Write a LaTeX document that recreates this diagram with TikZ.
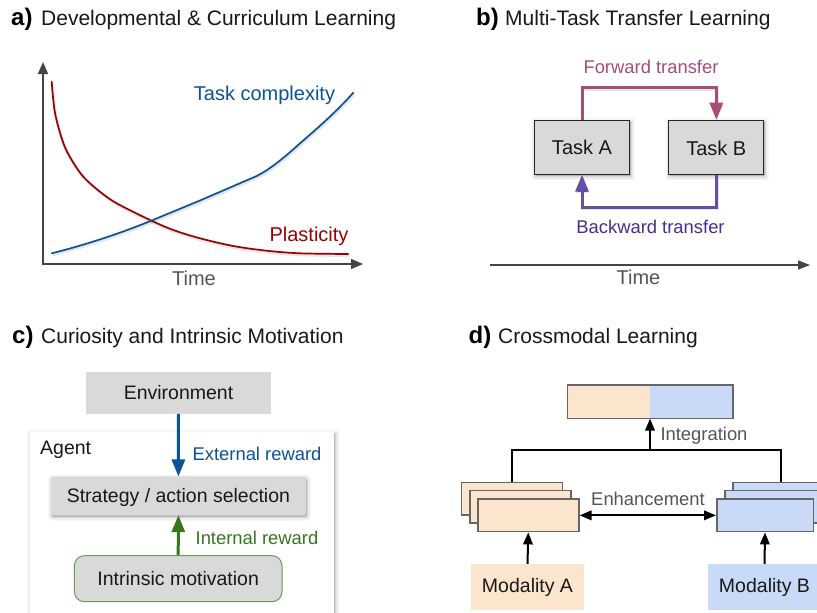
\documentclass[tikz,border=0pt]{standalone}
\usepackage{fontspec}
\setmainfont{Liberation Sans}
\usetikzlibrary{arrows.meta,calc}
\definecolor{gbox}{HTML}{D9D9D9}
\definecolor{peach}{HTML}{FCE5CD}
\definecolor{sky}{HTML}{C9DAF8}
\definecolor{axisc}{HTML}{444444}
\definecolor{greytxt}{HTML}{555555}
\definecolor{blueC}{HTML}{0B5394}
\definecolor{redC}{HTML}{990000}
\definecolor{pinkC}{HTML}{A64D79}
\definecolor{purpC}{HTML}{674EA7}
\definecolor{purpT}{HTML}{44308A}
\definecolor{greenC}{HTML}{38761D}
\definecolor{greenB}{HTML}{6A9A5B}
\definecolor{edgeC}{HTML}{666666}
\tikzset{
  x=1pt,y=-1pt,
  softshadow/.style={
    preaction={draw=black,fill=black,draw opacity=.035,fill opacity=.035,line width=8pt,transform canvas={xshift=1pt,yshift=-2pt}},
    preaction={draw=black,fill=black,draw opacity=.05,fill opacity=.05,line width=5pt,transform canvas={xshift=1pt,yshift=-2pt}},
    preaction={draw=black,fill=black,draw opacity=.07,fill opacity=.07,line width=2pt,transform canvas={xshift=1pt,yshift=-2pt}}},
  lineshadow/.style={
    preaction={draw=black,draw opacity=.10,line width=3pt,transform canvas={xshift=.7pt,yshift=-1.5pt}}},
  ttl/.style={anchor=base west,inner sep=0,text=black!90,font=\fontsize{21}{24}\selectfont},
  ttlb/.style={anchor=base west,inner sep=0,text=black,font=\fontsize{24}{28}\selectfont\bfseries},
  lab/.style={inner sep=0,text=black!90,font=\fontsize{20}{23}\selectfont},
  lab c/.style={inner sep=0,text=black!90,font=\fontsize{19.5}{23}\selectfont},
  slab/.style={inner sep=0,font=\fontsize{18.4}{22}\selectfont},
  sbox/.style={inner sep=0,draw=black!85,line width=1pt,fill=gbox,minimum width=95pt,minimum height=54pt,softshadow},
  layer/.style={inner sep=0,draw=edgeC,line width=1.6pt,anchor=north west,minimum height=32.5pt},
  bigtip/.style={-{Triangle[width=13pt,length=17pt]},line width=3pt},
  smalltip/.style={-{Triangle[width=9.5pt,length=12pt]},line width=2pt,draw=black},
  axisline/.style={draw=axisc,line width=1.5pt},
}
\begin{document}
\begin{tikzpicture}
\path[use as bounding box,clip] (0,0) rectangle (817,613);
\fill[white] (0,0) rectangle (817,613);

% ---------- a
\node[ttlb] (ta) at (11,25) {a)};
\node[ttl] (tta) at (41,25) {Developmental \& Curriculum Learning};
\coordinate (aorigin) at (43,264);
\coordinate (atop) at (43,62);
\coordinate (aright) at (363,264);
\draw[axisline,{Triangle[width=10pt,length=12pt]}-{Triangle[width=10pt,length=12pt]}] (atop) -- (aorigin) -- (aright);
\draw[redC,line width=1.7pt,lineshadow,line cap=round] plot[smooth,tension=.55] coordinates {
 (51.7,81.7) (55,113) (63.3,143) (71.7,160) (83.3,176.7) (100,191.7) (116.7,203.3) (150,220) (173.3,230) (200,238.3) (233.3,246) (266.7,250.7) (300,253.3) (348.3,254)};
\draw[blueC,line width=1.7pt,lineshadow,line cap=round] (51.7,253.3) .. controls (85,245) and (120,233.5) .. (151.7,220.5) -- (200,200.5) -- (256.7,176) .. controls (268,170.5) and (284,158) .. (300,143.3) .. controls (320,126) and (336,112) .. (353.3,92.7);
\node[lab,text=blueC] (lcomplex) at (264.5,95.5) {Task complexity};
\node[lab,text=redC] (lplast) at (309,236.5) {Plasticity};
\node[lab,text=greytxt] (ltimea) at (194,278) {Time};

% ---------- b
\node[ttlb] (tb) at (476,25) {b)};
\node[ttl] (ttb) at (505,25) {Multi-Task Transfer Learning};
\node[sbox] (taska) at (582,147.2) {};
\node[sbox] (taskb) at (716.3,147.2) {};
\node[lab] at (taska) {Task A};
\node[lab] at ($(taskb)+(0,.8)$) {Task B};
\coordinate (fwdA) at (582,87.7);
\coordinate (fwdB) at (716.3,87.7);
\coordinate (bwdB) at (716.3,207);
\coordinate (bwdA) at (582,207);
\draw[draw=pinkC,bigtip,lineshadow] (taska.north) -- (fwdA) -- (fwdB) -- (taskb.north);
\draw[draw=purpC,bigtip,lineshadow] (taskb.south) -- (bwdB) -- (bwdA) -- (taska.south);
\node[slab,text=pinkC] (lfwd) at (651,66.5) {Forward transfer};
\node[slab,text=purpT] (lbwd) at (650.5,227) {Backward transfer};
\coordinate (tleft) at (490,265);
\coordinate (tright) at (810,265);
\draw[axisline,-{Triangle[width=9pt,length=12pt]}] (tleft) -- (tright);
\node[lab,text=greytxt] (ltimeb) at (638.5,277.7) {Time};

% ---------- c
\node[ttlb] (tc) at (12,343) {c)};
\node[ttl] (ttc) at (41,343) {Curiosity and Intrinsic Motivation};
\node[inner sep=0,fill=white,minimum width=304pt,minimum height=182pt,softshadow] (agent) at (182,523) {};
\node[lab c,anchor=west] (lagent) at (40,450) {Agent};
\node[inner sep=0,fill=gbox,minimum width=185pt,minimum height=41.4pt] (env) at (178.5,393) {};
\node[lab c] at (env) {Environment};
\node[inner sep=0,fill=gbox,rounded corners=2pt,minimum width=255pt,minimum height=38.3pt,softshadow] (strat) at (178.4,495.8) {};
\node[lab c] at ($(strat)+(0,2)$) {Strategy / action selection};
\node[inner sep=0,fill=gbox,draw=greenB,line width=1pt,rounded corners=10pt,minimum width=207.7pt,minimum height=46pt] (intr) at (178.2,578.7) {};
\node[lab c] at (intr) {Intrinsic motivation};
\draw[draw=blueC,bigtip] (env.south) -- (strat.north);
\draw[draw=greenC,bigtip] (intr.north) -- (strat.south);
\node[slab,text=blueC] (lext) at (257,453.5) {External reward};
\node[slab,text=greenC] (lint) at (257,537.5) {Internal reward};

% ---------- d
\node[ttlb] (td) at (468.5,343) {d)};
\node[ttl] (ttd) at (498,343) {Crossmodal Learning};
\node[inner sep=0,minimum width=165pt,minimum height=33.3pt] (merged) at (650,401.7) {};
\fill[peach] (merged.south west) rectangle (merged.north);
\fill[sky] (merged.north) rectangle (merged.south east);
\draw[edgeC,line width=1.6pt] (merged.south west) rectangle (merged.north east);
% stack A
\node[layer,fill=peach,minimum width=101pt] (a3) at (460.7,481.7) {};
\node[layer,fill=peach,minimum width=101pt] (a2) at (469,489.5) {};
\node[layer,fill=peach,minimum width=101pt] (a1) at (477,498.3) {};
% stack B
\node[layer,fill=sky,minimum width=102pt] (b3) at (732,481.7) {};
\node[layer,fill=sky,minimum width=102pt] (b2) at (724,489.5) {};
\node[layer,fill=sky,minimum width=96.5pt] (b1) at (716,498.3) {};
\coordinate (joinL) at (511.7,450);
\coordinate (joinR) at (780.7,450);
\coordinate (joinM) at (650,450);
\draw[black,line width=1.8pt] (a3.north west -| joinL) -- (joinL) -- (joinR) -- (b3.north west -| joinR);
\draw[smalltip] (joinM) -- (merged.south);
\draw[smalltip,{Triangle[width=9.5pt,length=12pt]}-{Triangle[width=9.5pt,length=12pt]}] (a1.east) -- (b1.west);
\node[inner sep=0,fill=peach,minimum width=113pt,minimum height=46pt] (moda) at (527.5,587) {};
\node[lab c] at (moda) {Modality A};
\node[inner sep=0,fill=sky,minimum width=113pt,minimum height=46pt] (modb) at (764.5,587) {};
\node[lab c] (lmodb) at (modb) {Modality B};
\draw[smalltip] (moda.north) -- (a1.south);
\draw[smalltip] (modb.north) -- (b1.south);
\node[slab,text=greytxt] (lint2) at (704,435.5) {Integration};
\node[slab,text=greytxt] (lenh) at (648,498.5) {Enhancement};
\end{tikzpicture}
\end{document}
